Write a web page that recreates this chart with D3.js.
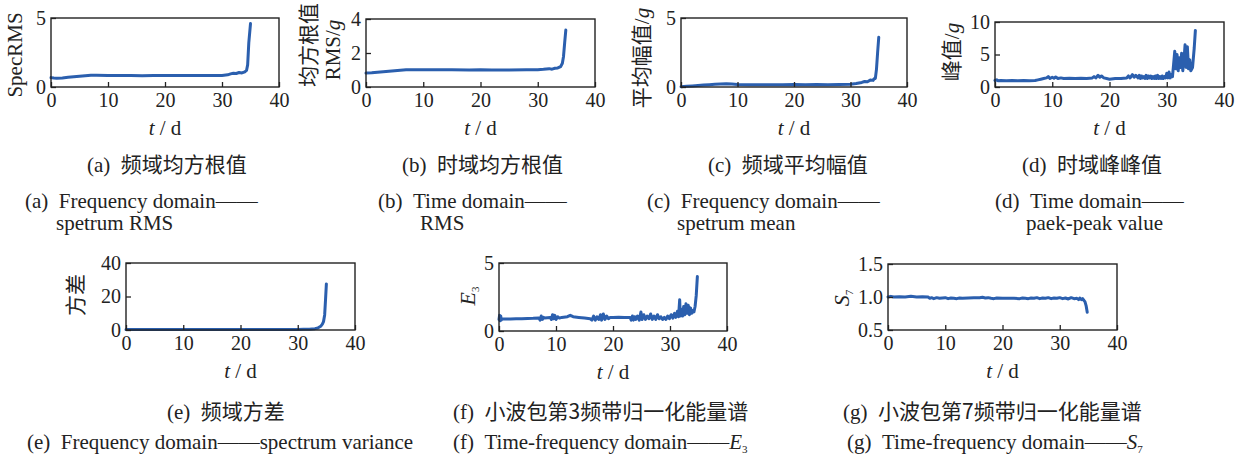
<!DOCTYPE html>
<html>
<head>
<meta charset="utf-8">
<script src="https://cdn.jsdelivr.net/npm/d3@7"></script>
<style>
  html, body { margin: 0; padding: 0; background: #fff; }
  svg { display: block; }
  .tick text { font-family: "Liberation Serif", "Times New Roman", serif; font-size: 20px; fill: #222; }
  .lbl { font-family: "Liberation Serif", "Times New Roman", serif; fill: #222; }
  .zh { font-family: "Noto Sans CJK SC", sans-serif; }
</style>
</head>
<body>
<svg id="chart" width="1244" height="457"></svg>
<script>
// ---------------- data ----------------
const xTicks = [0, 10, 20, 30, 40];

// (a) spectrum RMS
const tA = [0,0.5,1,2,3,4,5,6,7,8,10,12,14,16,18,20,22,24,26,28,30,31,31.5,32,32.5,33,33.5,34,34.3,34.5,34.7,35];
const vA = [0.68,0.65,0.63,0.66,0.7,0.74,0.78,0.82,0.85,0.85,0.84,0.83,0.83,0.82,0.83,0.83,0.84,0.83,0.84,0.83,0.84,0.88,0.95,1.0,0.98,1.05,1.02,1.1,1.2,1.6,3.2,4.6];
const yTicksA = [0, 5];

// (b) time-domain RMS
const tB = [0,1,2,3,4,5,6,7,8,10,12,15,18,20,22,25,28,30,31,32,32.5,33,33.5,34,34.3,34.5,34.7,34.9];
const vB = [0.82,0.84,0.87,0.9,0.93,0.96,0.99,1.01,1.02,1.02,1.01,1.01,1.0,1.01,1.0,1.0,1.01,1.02,1.04,1.08,1.05,1.1,1.12,1.2,1.4,1.8,2.6,3.35];
const yTicksB = [0, 2, 4];

// (c) spectrum mean
const tC = [0,1,2,3,4,5,6,7,8,9,10,12,14,16,18,20,22,24,26,28,30,31,32,32.5,33,33.5,34,34.2,34.4,34.6,34.8,35];
const vC = [0.02,0.05,0.08,0.11,0.14,0.17,0.2,0.22,0.23,0.21,0.19,0.17,0.16,0.16,0.17,0.18,0.17,0.18,0.17,0.18,0.2,0.25,0.33,0.4,0.38,0.5,0.48,0.6,0.62,1.3,2.5,3.6];
const yTicksC = [0, 5];

// (d) peak-peak value
const tD = [0,0.3,0.6,1,2,3,4,5,6,7,7.5,8,8.5,9,9.3,9.6,10,10.3,10.6,11,11.5,12,13,14,15,16,17,17.3,17.6,18,18.3,18.6,19,19.5,20,21,22,23,23.3,23.6,24,24.3,24.6,25,25.2,25.4,25.6,25.8,26,26.2,26.4,26.6,26.8,27,27.2,27.4,27.6,27.8,28,28.2,28.4,28.6,28.8,29,29.2,29.4,29.6,29.8,30,30.2,30.4,30.6,30.8,31,31.2,31.4,31.6,31.8,32,32.2,32.4,32.6,32.8,33,33.2,33.4,33.6,33.8,34,34.2,34.5,34.8,35];
const vD = [1.0,1.1,0.95,1.0,0.98,1.0,0.97,1.0,0.98,1.0,1.1,1.2,1.3,1.4,1.6,1.3,1.5,1.35,1.55,1.3,1.4,1.3,1.35,1.3,1.35,1.3,1.4,1.6,1.4,1.8,1.5,1.7,1.4,1.3,1.2,1.3,1.3,1.4,1.7,1.4,1.9,1.5,1.8,1.4,1.8,1.3,1.7,1.4,1.6,1.3,1.8,1.3,1.7,1.4,1.7,1.3,1.6,1.3,1.7,1.3,1.8,1.3,1.6,1.3,1.7,1.3,1.6,1.4,2.1,1.4,2.3,1.4,1.9,1.6,3.5,5.5,2.8,5.0,2.5,4.5,3.0,5.2,2.5,4.0,6.5,3.0,6.2,2.8,4.2,2.5,3.0,6.0,8.7];
const yTicksD = [0, 5, 10];

// (e) spectrum variance
const tE = [0,5,10,15,20,25,30,31,32,33,33.5,34,34.3,34.5,34.7,34.85,35];
const vE = [0.3,0.3,0.3,0.3,0.3,0.3,0.35,0.4,0.5,0.8,1.2,2.2,3.5,5,9,18,27.5];
const yTicksE = [0, 20, 40];

// (f) E3
const tF = [0,0.1,0.2,0.3,0.4,0.5,1,2,3,4,5,6,7,7.2,7.4,7.6,7.8,8,9,9.2,9.4,9.6,9.8,10,10.3,10.6,11,12,12.5,13,14,15,16,16.3,16.6,16.9,17.2,17.5,17.8,18,18.3,18.6,18.9,19.2,19.5,20,21,22,23,23.2,23.4,23.6,23.8,24,24.3,24.6,24.9,25.1,25.4,25.7,26,26.3,26.6,26.9,27.2,27.5,27.8,28.1,28.4,28.7,29,29.3,29.6,29.9,30.2,30.5,30.8,31,31.3,31.5,31.7,31.8,32,32.2,32.4,32.6,32.8,33,33.2,33.4,33.6,33.8,34,34.2,34.4,34.6,34.8];
const vF = [0.85,1.15,0.75,1.1,0.8,0.9,0.88,0.88,0.9,0.9,0.92,0.93,0.95,0.8,1.1,0.85,1.0,0.95,1.0,0.85,1.2,0.9,1.15,0.85,1.05,0.95,1.0,1.05,1.15,1.05,1.0,0.95,0.9,0.8,1.1,0.8,1.05,0.85,1.2,0.8,1.25,0.85,1.1,0.9,1.0,1.0,1.02,1.0,1.0,0.8,1.1,0.8,1.05,0.85,1.1,0.8,1.4,0.85,1.2,0.85,1.1,0.9,1.25,0.85,1.1,0.85,1.2,0.9,1.05,0.85,1.0,0.85,1.1,0.9,1.2,0.95,1.3,1.0,1.45,1.05,2.3,1.1,1.6,1.1,1.8,1.2,2.0,1.3,1.9,1.2,1.7,1.3,1.5,1.4,1.8,2.6,4.0];
const yTicksF = [0, 5];

// (g) S7
const tG = [0,0.5,1,2,3,4,5,6,7,7.3,7.6,8,8.5,9,9.5,10,10.5,11,11.5,12,12.5,13,14,15,16,16.5,17,17.5,18,18.5,19,20,21,22,23,23.5,24,24.5,25,25.5,26,26.5,27,27.5,28,28.5,29,29.5,30,30.5,31,31.5,32,32.5,33,33.3,33.5,33.8,34,34.2,34.4,34.6,34.8];
const vG = [1.0,1.01,1.0,1.005,1.0,1.01,1.0,1.005,1.0,0.98,0.99,0.975,0.99,0.98,0.985,0.99,0.975,0.985,0.98,0.975,0.985,0.98,0.985,0.99,0.99,0.995,0.985,0.99,0.98,0.975,0.985,0.98,0.98,0.98,0.975,0.985,0.98,0.975,0.985,0.98,0.99,0.975,0.985,0.98,0.99,0.975,0.985,0.98,0.99,0.975,0.985,0.97,0.99,0.975,0.98,0.96,0.985,0.96,0.975,0.95,0.93,0.87,0.77];
const yTicksG = [0.5, 1.0, 1.5];

// ---------------- drawing ----------------
const svg = d3.select("#chart");
const LINE = "#2b5fae";
const INK = "#222";
const SP = "\u00a0\u00a0";

const panels = [
  { t: tA, v: vA, yt: yTicksA, dom: [0,5],  x0: 51,  x1: 279,  y0: 18,  y1: 87,  fmt: d3.format("d") },
  { t: tB, v: vB, yt: yTicksB, dom: [0,4],  x0: 366, x1: 595,  y0: 19,  y1: 87,  fmt: d3.format("d") },
  { t: tC, v: vC, yt: yTicksC, dom: [0,5],  x0: 681, x1: 907,  y0: 18,  y1: 87,  fmt: d3.format("d") },
  { t: tD, v: vD, yt: yTicksD, dom: [0,10], x0: 995, x1: 1224, y0: 22,  y1: 87,  fmt: d3.format("d") },
  { t: tE, v: vE, yt: yTicksE, dom: [0,40], x0: 126, x1: 355,  y0: 263, y1: 330, fmt: d3.format("d") },
  { t: tF, v: vF, yt: yTicksF, dom: [0,5],  x0: 499, x1: 727,  y0: 263, y1: 331, fmt: d3.format("d") },
  { t: tG, v: vG, yt: yTicksG, dom: [0.5,1.5], x0: 888, x1: 1117, y0: 264, y1: 330, fmt: d3.format(".1f") }
];

panels.forEach(p => {
  const x = d3.scaleLinear().domain([0, 40]).range([p.x0, p.x1]);
  const y = d3.scaleLinear().domain(p.dom).range([p.y1, p.y0]);
  const g = svg.append("g");

  // data line
  const pts = p.t.map((t, i) => [t, p.v[i]]);
  g.append("path")
    .datum(pts)
    .attr("fill", "none")
    .attr("stroke", LINE)
    .attr("stroke-width", 3)
    .attr("stroke-linejoin", "round")
    .attr("stroke-linecap", "round")
    .attr("d", d3.line().x(d => x(d[0])).y(d => y(d[1])));

  // x axis
  const gx = g.append("g")
    .attr("transform", `translate(0,${p.y1})`)
    .call(d3.axisBottom(x).tickValues(xTicks).tickSizeInner(-5).tickSizeOuter(0).tickPadding(6));
  gx.select(".domain").remove();
  gx.selectAll(".tick line").attr("stroke", INK).attr("stroke-width", 1.3);

  // y axis
  const gy = g.append("g")
    .attr("transform", `translate(${p.x0},0)`)
    .call(d3.axisLeft(y).tickValues(p.yt).tickFormat(p.fmt).tickSizeInner(-5).tickSizeOuter(0).tickPadding(5));
  gy.select(".domain").remove();
  gy.selectAll(".tick line").attr("stroke", INK).attr("stroke-width", 1.3);

  // frame
  g.append("rect")
    .attr("x", p.x0).attr("y", p.y0)
    .attr("width", p.x1 - p.x0).attr("height", p.y1 - p.y0)
    .attr("fill", "none").attr("stroke", INK).attr("stroke-width", 1.4);

  // x title
  const xt = g.append("text").attr("class", "lbl")
    .attr("x", (p.x0 + p.x1) / 2).attr("y", p.y1 + 48)
    .attr("text-anchor", "middle").attr("font-size", 21);
  xt.append("tspan").attr("font-style", "italic").text("t");
  xt.append("tspan").text("\u00a0/\u00a0d");
});

// ---------------- y-axis titles ----------------
function vtext(cx, cy, size) {
  return svg.append("text").attr("class", "lbl")
    .attr("transform", `translate(${cx},${cy}) rotate(-90)`)
    .attr("text-anchor", "middle").attr("dy", "0.35em").attr("font-size", size);
}
vtext(15, 55, 21).text("SpecRMS");
vtext(309, 45, 21).attr("class", "lbl zh").text("均方根值");
{ const t = vtext(333, 50, 21); t.append("tspan").text("RMS/"); t.append("tspan").attr("font-style","italic").text("g"); }
{ const t = vtext(642, 58, 21); t.append("tspan").attr("class","zh").text("平均幅值"); t.append("tspan").text("/"); t.append("tspan").attr("font-style","italic").text("g"); }
{ const t = vtext(952, 52, 21); t.append("tspan").attr("class","zh").text("峰值"); t.append("tspan").text("/"); t.append("tspan").attr("font-style","italic").text("g"); }
vtext(76, 295, 21).attr("class", "lbl zh").text("方差");
{ const t = vtext(467, 296, 22); t.append("tspan").attr("font-style","italic").text("E"); t.append("tspan").attr("font-size", 11).attr("dy", "0.35em").text("3"); }
{ const t = vtext(841, 298, 22); t.append("tspan").attr("font-style","italic").text("S"); t.append("tspan").attr("font-size", 11).attr("dy", "0.35em").text("7"); }

// ---------------- captions ----------------
function caption(x, y, label, zh) {
  const t = svg.append("text").attr("class", "lbl").attr("x", x).attr("y", y).attr("font-size", 21);
  t.append("tspan").text(label + SP);
  t.append("tspan").attr("class", "zh").attr("font-size", 21).text(zh);
  return t;
}
caption(87, 172, "(a)", "频域均方根值");
caption(402, 172, "(b)", "时域均方根值");
caption(708, 172, "(c)", "频域平均幅值");
caption(1022, 172, "(d)", "时域峰峰值");
caption(167, 419, "(e)", "频域方差");
caption(453, 419, "(f)", "小波包第3频带归一化能量谱");
caption(843, 419, "(g)", "小波包第7频带归一化能量谱");

function en(x, y, label, str) {
  return svg.append("text").attr("class", "lbl").attr("x", x).attr("y", y).attr("font-size", 21).text(label ? label + SP + str : str);
}
en(25, 208, "(a)", "Frequency domain——");
en(56, 230, "", "spetrum RMS");
en(378, 208, "(b)", "Time domain——");
en(420, 230, "", "RMS");
en(647, 208, "(c)", "Frequency domain——");
en(677, 230, "", "spetrum mean");
en(995, 208, "(d)", "Time domain——");
en(1026, 230, "", "paek-peak value");
en(27, 449, "(e)", "Frequency domain——spectrum variance");
{ const t = en(453, 449, "(f)", "Time-frequency domain——"); t.append("tspan").attr("font-style","italic").text("E"); t.append("tspan").attr("font-size", 11).attr("dy", "0.35em").text("3"); }
{ const t = en(847, 449, "(g)", "Time-frequency domain——"); t.append("tspan").attr("font-style","italic").text("S"); t.append("tspan").attr("font-size", 11).attr("dy", "0.35em").text("7"); }
</script>
</body>
</html>
